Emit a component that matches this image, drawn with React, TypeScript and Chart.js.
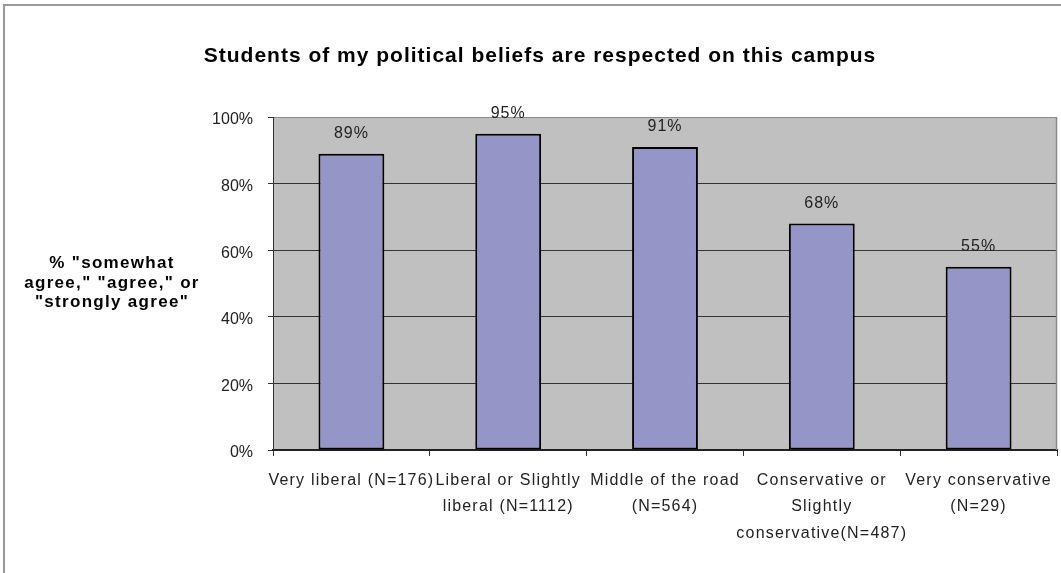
import React, { useEffect, useRef } from "react";
import { Chart, registerables } from "chart.js";

Chart.register(...registerables);

const categories: string[][] = [
  ["Very liberal (N=176)"],
  ["Liberal or Slightly", "liberal (N=1112)"],
  ["Middle of the road", "(N=564)"],
  ["Conservative or", "Slightly", "conservative(N=487)"],
  ["Very conservative", "(N=29)"],
];
const values: number[] = [89, 95, 91, 68, 55];
const yMin = 0;
const yMax = 100;
const yStep = 20;
const titleText = "Students of my political beliefs are respected on this campus";
const yTitleLines: string[] = ['% "somewhat', 'agree," "agree," or', '"strongly agree"'];

const FONT = '"Liberation Sans", Arial, sans-serif';

export default function App() {
  const ref = useRef<HTMLCanvasElement | null>(null);

  useEffect(() => {
    document.body.style.margin = "0";
    const canvas = ref.current;
    if (!canvas) return;

    const decor = {
      id: "decor",
      beforeDraw(chart: any) {
        const { ctx, chartArea } = chart;
        ctx.save();
        ctx.fillStyle = "#C0C0C0";
        ctx.fillRect(chartArea.left, chartArea.top, chartArea.right - chartArea.left, chartArea.bottom - chartArea.top);
        ctx.restore();
        (ctx as any).letterSpacing = "0px";
      },
      beforeDatasetsDraw(chart: any) {
        const { ctx, chartArea } = chart;
        ctx.save();
        ctx.strokeStyle = "#8a8a8a";
        ctx.lineWidth = 1.5;
        ctx.beginPath();
        ctx.moveTo(chartArea.right - 0.5, chartArea.top);
        ctx.lineTo(chartArea.right - 0.5, chartArea.bottom);
        ctx.stroke();
        ctx.restore();
        (ctx as any).letterSpacing = "1.2px";
      },
      afterDatasetsDraw(chart: any) {
        const { ctx } = chart;
        const meta = chart.getDatasetMeta(0);
        ctx.save();
        (ctx as any).letterSpacing = "1px";
        ctx.font = `16px ${FONT}`;
        ctx.fillStyle = "#222";
        ctx.textAlign = "center";
        ctx.textBaseline = "middle";
        meta.data.forEach((bar: any, i: number) => {
          ctx.fillText(`${values[i]}%`, bar.x, bar.y - 20);
        });
        ctx.restore();
        (ctx as any).letterSpacing = "1.2px";
      },
      afterDraw(chart: any) {
        const { ctx } = chart;
        ctx.save();
        (ctx as any).letterSpacing = "1px";
        ctx.fillStyle = "#000";
        ctx.textAlign = "center";
        ctx.textBaseline = "alphabetic";
        ctx.font = `bold 21px ${FONT}`;
        ctx.fillText(titleText, 540, 62);
        ctx.font = `bold 17px ${FONT}`;
        (ctx as any).letterSpacing = "1.3px";
        yTitleLines.forEach((line, i) => {
          ctx.fillText(line, 112, 268 + i * 19.5);
        });
        ctx.restore();
        (ctx as any).letterSpacing = "0px";
      },
    };

    const chart = new Chart(canvas, {
      type: "bar",
      data: {
        labels: categories,
        datasets: [
          {
            data: values,
            backgroundColor: "#9595C8",
            borderColor: "#000",
            borderWidth: 2,
            borderSkipped: false,
            categoryPercentage: 1,
            barPercentage: 0.42,
          },
        ],
      },
      options: {
        responsive: false,
        animation: false,
        devicePixelRatio: 1,
        layout: { padding: { top: 117, right: 4, left: 0, bottom: 0 } },
        plugins: {
          legend: { display: false },
          title: { display: false },
          tooltip: { enabled: false },
        },
        scales: {
          x: {
            grid: {
              display: true,
              drawOnChartArea: false,
              drawTicks: true,
              tickLength: 6,
              tickColor: "#333",
              offset: true,
            },
            border: { display: true, color: "#222", width: 2 },
            ticks: {
              z: 1,
              color: "#222",
              font: { family: FONT, size: 16, lineHeight: 1.656 },
              padding: 11,
              maxRotation: 0,
              minRotation: 0,
              autoSkip: false,
            },
            afterFit(scale: any) {
              scale.height = 123;
            },
          },
          y: {
            min: yMin,
            max: yMax,
            grid: {
              color: (c: any) => (c.tick && c.tick.value === yMax ? "#8a8a8a" : "#333"),
              tickColor: "#333",
              tickLength: 5,
              lineWidth: 1,
            },
            border: { display: true, color: "#333", width: 1 },
            ticks: {
              stepSize: yStep,
              color: "#222",
              font: { family: FONT, size: 16 },
              padding: 15,
              labelOffset: 3,
              callback: (v: any) => `${v}%`,
            },
            afterFit(scale: any) {
              scale.width = 273;
            },
          },
        },
      },
      plugins: [decor],
    });

    return () => chart.destroy();
  }, []);

  return (
    <div style={{ position: "relative", width: 1061, height: 573, overflow: "hidden", background: "#fff" }}>
      <canvas ref={ref} width={1061} height={573} style={{ position: "absolute", left: 0, top: 0 }} />
      <div
        style={{
          position: "absolute",
          left: 3,
          top: 4,
          width: 1200,
          height: 700,
          border: "2px solid #9a9a9e",
          pointerEvents: "none",
        }}
      />
    </div>
  );
}
